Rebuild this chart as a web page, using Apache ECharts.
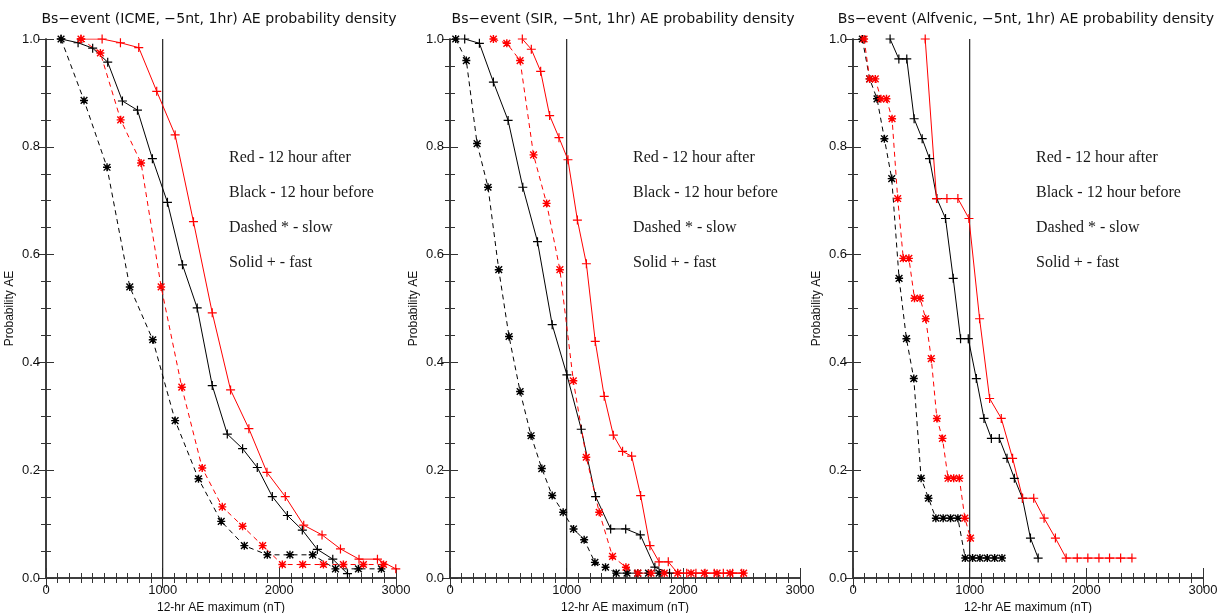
<!DOCTYPE html>
<html>
<head>
<meta charset="utf-8">
<script src="https://cdn.jsdelivr.net/npm/echarts@6/dist/echarts.min.js"></script>
<style>
  html, body { margin: 0; padding: 0; background: #fff; }
  #chart { width: 1226px; height: 613px; }
</style>
</head>
<body>
<div id="chart"></div>
<script>
// Panel titles (one per event class)
const panelTitles = [
  'Bs\u2212event (ICME, \u22125nt, 1hr) AE probability density',
  'Bs\u2212event (SIR, \u22125nt, 1hr) AE probability density',
  'Bs\u2212event (Alfvenic, \u22125nt, 1hr) AE probability density'
];
const xAxisTitle = '12-hr AE maximum (nT)';
const yAxisTitle = 'Probability AE';
const legendLines = ['Red - 12 hour after', 'Black - 12 hour before', 'Dashed * - slow', 'Solid + - fast'];

// Axis ranges and ticks
const xTicks = [0, 1000, 2000, 3000];
const yTicks = [0.0, 0.2, 0.4, 0.6, 0.8, 1.0];
const refLineAE = 1000;

// ICME: [AE (nT), probability]
const icmeBeforeFast = [[129,1.0],[275,0.993],[400,0.983],[529,0.957],[655,0.885],[784,0.868],[912,0.778],[1041,0.697],[1170,0.581],[1296,0.501],[1425,0.357],[1554,0.267],[1685,0.240],[1811,0.205],[1940,0.151],[2069,0.116],[2197,0.089],[2326,0.053],[2458,0.035],[2584,0.008]];
const icmeAfterFast = [[300,1.0],[481,1.0],[638,0.993],[795,0.984],[949,0.903],[1107,0.822],[1264,0.661],[1425,0.492],[1582,0.349],[1739,0.277],[1894,0.196],[2051,0.151],[2209,0.098],[2366,0.080],[2524,0.054],[2683,0.035],[2841,0.035],[2998,0.017]];
const icmeBeforeSlow = [[129,1.0],[326,0.886],[523,0.762],[718,0.540],[915,0.442],[1107,0.292],[1307,0.184],[1502,0.105],[1700,0.060],[1897,0.043],[2091,0.043],[2286,0.043],[2481,0.017],[2678,0.017],[2875,0.017]];
const icmeAfterSlow = [[300,1.0],[466,0.974],[640,0.850],[815,0.770],[987,0.540],[1164,0.354],[1339,0.204],[1511,0.132],[1685,0.096],[1857,0.060],[2026,0.025],[2200,0.025],[2378,0.025],[2549,0.025],[2721,0.025],[2893,0.025]];

// SIR
const sirBeforeFast = [[126,1.0],[252,0.992],[372,0.920],[498,0.849],[624,0.725],[750,0.624],[876,0.470],[1002,0.377],[1125,0.276],[1248,0.151],[1377,0.091],[1506,0.091],[1631,0.080],[1756,0.020],[1882,0.009]];
const sirAfterFast = [[620,1.0],[697,0.981],[777,0.940],[854,0.858],[934,0.817],[1011,0.776],[1092,0.664],[1169,0.583],[1245,0.439],[1322,0.337],[1400,0.265],[1479,0.235],[1557,0.226],[1634,0.153],[1714,0.060],[1792,0.030],[1871,0.030],[1951,0.009],[2029,0.009],[2108,0.009],[2186,0.009],[2265,0.009],[2343,0.009],[2422,0.009],[2500,0.009]];
const sirBeforeSlow = [[49,1.0],[140,0.960],[232,0.806],[326,0.725],[418,0.572],[506,0.448],[601,0.346],[695,0.264],[787,0.203],[876,0.153],[970,0.122],[1059,0.091],[1150,0.071],[1242,0.029],[1333,0.020],[1425,0.009],[1517,0.009],[1609,0.009],[1701,0.009],[1793,0.009]];
const sirAfterSlow = [[372,1.0],[487,0.992],[601,0.960],[716,0.785],[828,0.695],[942,0.572],[1057,0.366],[1168,0.224],[1279,0.122],[1393,0.040],[1508,0.020],[1611,0.009],[1723,0.009],[1837,0.009],[1952,0.009],[2066,0.009],[2180,0.009],[2289,0.009],[2400,0.009],[2517,0.009]];

// Alfvenic
const alfBeforeFast = [[318,1.0],[393,0.963],[461,0.963],[524,0.852],[593,0.815],[656,0.778],[719,0.704],[793,0.667],[859,0.556],[922,0.444],[988,0.444],[1057,0.370],[1123,0.296],[1186,0.259],[1254,0.259],[1320,0.222],[1383,0.185],[1452,0.148],[1521,0.074],[1587,0.037]];
const alfAfterFast = [[619,1.0],[716,0.704],[805,0.704],[899,0.704],[994,0.667],[1085,0.481],[1171,0.333],[1271,0.296],[1368,0.222],[1454,0.148],[1549,0.148],[1638,0.111],[1735,0.074],[1827,0.037],[1922,0.037],[2013,0.037],[2108,0.037],[2199,0.037],[2294,0.037],[2391,0.037]];
const alfBeforeSlow = [[80,1.0],[143,0.926],[206,0.889],[269,0.815],[332,0.741],[395,0.556],[458,0.444],[521,0.370],[584,0.185],[647,0.148],[710,0.111],[773,0.111],[836,0.111],[899,0.111],[962,0.037],[1025,0.037],[1088,0.037],[1151,0.037],[1214,0.037],[1277,0.037]];
const alfAfterSlow = [[95,1.0],[143,0.926],[191,0.926],[239,0.889],[287,0.889],[335,0.852],[383,0.704],[431,0.593],[479,0.593],[527,0.519],[575,0.519],[623,0.481],[671,0.407],[719,0.296],[767,0.259],[815,0.185],[863,0.185],[911,0.185],[959,0.111],[1007,0.074]];

const panels = [
  { beforeFast: icmeBeforeFast, afterFast: icmeAfterFast, beforeSlow: icmeBeforeSlow, afterSlow: icmeAfterSlow },
  { beforeFast: sirBeforeFast, afterFast: sirAfterFast, beforeSlow: sirBeforeSlow, afterSlow: sirAfterSlow },
  { beforeFast: alfBeforeFast, afterFast: alfAfterFast, beforeSlow: alfBeforeSlow, afterSlow: alfAfterSlow }
];

// Layout
const gridLefts = [46, 450, 853];
const gridTop = 39;
const gridW = 350;
const gridH = 539;

const SANS = '"Liberation Sans", Arial, sans-serif';
const TITLE_FONT = '"DejaVu Sans", "Liberation Sans", sans-serif';
const SERIF = '"Liberation Serif", "Times New Roman", serif';
const AXIS_COLOR = '#333';

// Plus and asterisk marker outlines
const PLUS = 'path://M-0.6,-4.5 L0.6,-4.5 L0.6,-0.6 L4.5,-0.6 L4.5,0.6 L0.6,0.6 L0.6,4.5 L-0.6,4.5 L-0.6,0.6 L-4.5,0.6 L-4.5,-0.6 L-0.6,-0.6 Z';
const STAR = 'path://M-0.8,-4.5 L0.8,-4.5 L0.8,-0.8 L4.5,-0.8 L4.5,0.8 L0.8,0.8 L0.8,4.5 L-0.8,4.5 L-0.8,0.8 L-4.5,0.8 L-4.5,-0.8 L-0.8,-0.8 Z ' +
             'M-3.2,-4.3 L4.3,3.2 L3.2,4.3 L-4.3,-3.2 Z M-4.3,3.2 L3.2,-4.3 L4.3,-3.2 L-3.2,4.3 Z';

const grids = [], xAxes = [], yAxes = [], series = [], graphics = [];

gridLefts.forEach((left, i) => {
  grids.push({ left: left, top: gridTop, width: gridW, height: gridH, containLabel: false, outerBoundsMode: 'none' });

  const xBase = {
    gridIndex: i, type: 'value', min: xTicks[0], max: xTicks[xTicks.length - 1], interval: 1000,
    splitLine: { show: false },
    axisLine: { show: true, lineStyle: { color: AXIS_COLOR, width: 1.5 } },
    axisTick: { show: true, inside: true, length: 10, lineStyle: { color: AXIS_COLOR, width: 1 } },
    minorTick: { show: true, splitNumber: 10, length: 5, lineStyle: { color: AXIS_COLOR, width: 1 } }
  };
  xAxes.push(Object.assign({}, xBase, {
    position: 'bottom',
    name: xAxisTitle, nameLocation: 'middle', nameGap: 22,
    nameTextStyle: { fontFamily: SANS, fontSize: 12, color: '#111' },
    axisLabel: { show: true, margin: 6, fontFamily: SANS, fontSize: 13, color: '#111',
      formatter: v => String(v) }
  }));
  xAxes.push(Object.assign({}, xBase, { position: 'top', axisLabel: { show: false } }));

  const yBase = {
    gridIndex: i, type: 'value', min: yTicks[0], max: yTicks[yTicks.length - 1], interval: 0.2,
    splitLine: { show: false },
    axisLine: { show: true, lineStyle: { color: AXIS_COLOR, width: 1.5 } },
    axisTick: { show: true, inside: true, length: 8, lineStyle: { color: AXIS_COLOR, width: 1 } },
    minorTick: { show: true, splitNumber: 4, length: 5, lineStyle: { color: AXIS_COLOR, width: 1 } }
  };
  yAxes.push(Object.assign({}, yBase, {
    position: 'left',
    name: yAxisTitle, nameLocation: 'middle', nameGap: 30, nameRotate: 90,
    nameTextStyle: { fontFamily: SANS, fontSize: 12, color: '#111' },
    axisLabel: { show: true, margin: 6, fontFamily: SANS, fontSize: 13, color: '#111',
      formatter: v => v.toFixed(1) }
  }));
  yAxes.push(Object.assign({}, yBase, { position: 'right', axisLabel: { show: false } }));

  const xi = i * 2, yi = i * 2;
  const p = panels[i];

  // Vertical reference line at 1000 nT
  series.push({
    type: 'line', xAxisIndex: xi, yAxisIndex: yi, silent: true,
    data: [[refLineAE, yTicks[0]], [refLineAE, yTicks[yTicks.length - 1]]],
    symbol: 'none', lineStyle: { color: '#222', width: 1.2 }
  });

  const mk = (data, color, dashed) => ({
    type: 'line', xAxisIndex: xi, yAxisIndex: yi, data: data,
    symbol: dashed ? STAR : PLUS, symbolSize: dashed ? 8 : 9,
    showAllSymbol: true, animation: false,
    itemStyle: { color: color },
    lineStyle: { color: color, width: 1, type: dashed ? [5, 4] : 'solid' }
  });
  series.push(mk(p.beforeSlow, '#000', true));
  series.push(mk(p.beforeFast, '#000', false));
  series.push(mk(p.afterSlow, '#ff0000', true));
  series.push(mk(p.afterFast, '#ff0000', false));

  // Panel title
  graphics.push({
    type: 'text', x: left + gridW / 2 - 2, y: 19,
    style: { text: panelTitles[i], fontFamily: TITLE_FONT, fontSize: 14.1, fill: '#111',
      textAlign: 'center', textVerticalAlign: 'middle' }
  });
  // Key text
  legendLines.forEach((t, k) => {
    graphics.push({
      type: 'text', x: left + 183, y: 158 + k * 35,
      style: { text: t, fontFamily: SERIF, fontSize: 16, fill: '#1a1a1a',
        textAlign: 'left', textVerticalAlign: 'middle' }
    });
  });
});

const chart = echarts.init(document.getElementById('chart'), null, { renderer: 'canvas' });
chart.setOption({
  animation: false,
  backgroundColor: '#fff',
  grid: grids,
  xAxis: xAxes,
  yAxis: yAxes,
  series: series,
  graphic: graphics
});
</script>
</body>
</html>
